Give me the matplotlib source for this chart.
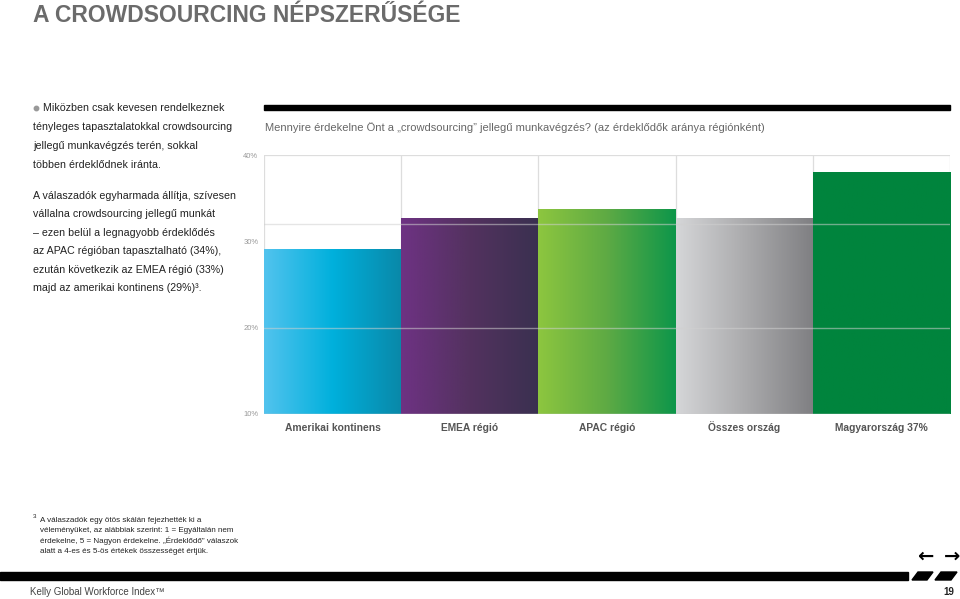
import numpy as np
import matplotlib
matplotlib.use("Agg")
import matplotlib.pyplot as plt
from matplotlib.colors import LinearSegmentedColormap
from matplotlib.patches import Rectangle, Polygon
from matplotlib import font_manager

# adatok
categories = ["Amerikai kontinens", "EMEA régió", "APAC régió", "Összes ország", "Magyarország 37%"]
values = [29.0, 32.7, 33.7, 32.7, 38.0]
yticks = [10, 20, 30, 40]
ytick_labels = ["10%", "20%", "30%", "40%"]
gridlines = [20, 32]
bar_colors = [
    ["#52c3ee", "#00b0dc", "#0a88a8"],
    ["#6e3283", "#53325f", "#3a3050"],
    ["#8dc63f", "#5eaa44", "#0d964a"],
    ["#d5d6d8", "#ababad", "#7f7f82"],
    ["#00843d", "#00843d"],
]

title = "A CROWDSOURCING NÉPSZERŰSÉGE"
chart_title = "Mennyire érdekelne Önt a \u201ecrowdsourcing\u201d jellegű munkavégzés? (az érdeklődők aránya régiónként)"
para1 = ["Miközben csak kevesen rendelkeznek",
         "tényleges tapasztalatokkal crowdsourcing",
         "jellegű munkavégzés terén, sokkal",
         "többen érdeklődnek iránta."]
para2 = ["A válaszadók egyharmada állítja, szívesen",
         "vállalna crowdsourcing jellegű munkát",
         "\u2013 ezen belül a legnagyobb érdeklődés",
         "az APAC régióban tapasztalható (34%),",
         "ezután következik az EMEA régió (33%)",
         "majd az amerikai kontinens (29%)\u00b3."]
footnote = ["A válaszadók egy ötös skálán fejezhették ki a",
            "véleményüket, az alábbiak szerint: 1 = Egyáltalán nem",
            "érdekelne, 5 = Nagyon érdekelne. \u201eÉrdeklődő\u201d válaszok",
            "alatt a 4-es és 5-ös értékek összességét értjük."]

names = {f.name for f in font_manager.fontManager.ttflist}
narrow = "Liberation Sans Narrow" if "Liberation Sans Narrow" in names else "Liberation Sans"
plt.rcParams['font.family'] = ['Liberation Sans', 'DejaVu Sans']

fig = plt.figure(figsize=(9.6, 5.99), dpi=100)

# háttér réteg pixel koordinátákkal
bg = fig.add_axes([0, 0, 1, 1])
bg.set_xlim(0, 960)
bg.set_ylim(599, 0)
bg.axis('off')

bg.text(33, 15, title, fontsize=16.5, fontweight='bold', color='#6b6b6b', va='center', ha='left')

bg.plot([36], [108], marker='o', ms=3.2, color='#999999')
y = 108
for line in para1:
    bg.text(43 if y == 108 else 33, y, line, fontsize=7.7, color='#222222', va='center')
    y += 19
y = 196
for line in para2:
    bg.text(33, y, line, fontsize=7.7, color='#222222', va='center')
    y += 18.4

# vastag fekete vonal a diagram felett
bg.add_patch(Rectangle((264, 105), 686, 5, color='black'))
bg.text(265, 128, chart_title, fontsize=8, color='#666666', va='center', family=narrow)

# lábjegyzet
bg.text(33, 517, "3", fontsize=4.5, color='#222222', va='center')
y = 520
for line in footnote:
    bg.text(40, y, line, fontsize=5.8, color='#222222', va='center')
    y += 10.4

# lábléc
bg.add_patch(Rectangle((0, 572), 908, 8, color='black'))
bg.add_patch(Polygon([[912, 580], [918, 572], [933, 572], [927, 580]], color='black'))
bg.add_patch(Polygon([[935, 580], [941, 572], [957, 572], [951, 580]], color='black'))
bg.text(30, 592, "Kelly Global Workforce Index\u2122", fontsize=7, color='#444444', va='center')
bg.text(954, 592, "19", fontsize=7, fontweight='bold', color='#222222', va='center', ha='right')
bg.text(925, 556, "\u2190", fontsize=14, fontweight='bold', color='black', va='center', ha='center', family='DejaVu Sans')
bg.text(952, 556, "\u2192", fontsize=14, fontweight='bold', color='black', va='center', ha='center', family='DejaVu Sans')

# diagram
ax = fig.add_axes([264/960, 1 - 414/599, 686/960, (414 - 155)/599])
x = np.arange(len(categories))
ax.set_xlim(-0.5, len(categories) - 0.5)
ax.set_ylim(10, 40)

grad = np.linspace(0, 1, 256).reshape(1, -1)
for i, (v, cols) in enumerate(zip(values, bar_colors)):
    cmap = LinearSegmentedColormap.from_list("b%d" % i, cols)
    ax.imshow(grad, cmap=cmap, extent=[i - 0.5, i + 0.5, 10, v], aspect='auto', zorder=2)

for b in np.arange(-0.5, len(categories), 1):
    ax.axvline(b, color='#dddddd', lw=0.9, zorder=1)
ax.axhline(40, color='#dddddd', lw=0.9, zorder=1)
for g in gridlines:
    ax.axhline(g, color='#d0d0d0', lw=1, alpha=0.55, zorder=3)
ax.axhline(10, color='#cfcfcf', lw=1, zorder=3)

for s in ax.spines.values():
    s.set_visible(False)
ax.set_yticks(yticks)
ax.set_yticklabels(ytick_labels, fontsize=5.5, color='#999999')
ax.set_xticks(x)
ax.set_xticklabels(categories, fontsize=7.4, color='#555555', fontweight='bold', family=narrow, va='baseline')
ax.tick_params(length=0, axis='y', pad=4)
ax.tick_params(length=0, axis='x', pad=12)

fig.savefig("out.png", dpi=100)
